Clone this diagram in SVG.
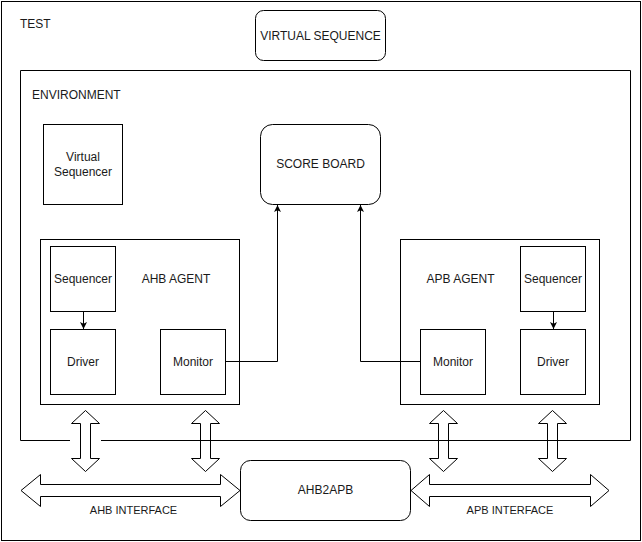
<svg xmlns="http://www.w3.org/2000/svg" width="642" height="542" viewBox="0 0 642 542">
<style>
  .box{fill:#fff;stroke:#000;stroke-width:1}
  .frame{fill:none;stroke:#000;stroke-width:1}
  .t{font-family:"Liberation Sans",Arial,Helvetica,sans-serif;font-size:12px;fill:#1a1a1a}
  .c{text-anchor:middle}
  .s{font-size:11px}
  .wire{fill:none;stroke:#000;stroke-width:1}
  .flex{fill:#fff;stroke:#000;stroke-width:1;stroke-linejoin:miter}
</style>
<defs>
  <marker id="ah" viewBox="0 0 10 10" refX="10" refY="5" markerWidth="7" markerHeight="7" markerUnits="userSpaceOnUse" orient="auto">
    <path d="M0,0 L10,5 L0,10 L2.5,5 Z" fill="#000"/>
  </marker>
</defs>
<rect x="0" y="0" width="642" height="542" fill="#fff"/>

<g id="test">
  <rect class="frame" x="1.5" y="1.5" width="639" height="539"/>
  <text class="t" x="20" y="28">TEST</text>
</g>

<g id="virtual-sequence">
  <rect class="box" x="255.5" y="10.5" width="130" height="50" rx="8"/>
  <text class="t c" x="320.5" y="39.5">VIRTUAL SEQUENCE</text>
</g>

<g id="environment">
  <path class="frame" d="M101,440.5 H630.5 V70.5 H20.5 V440.5 H70"/>
  <text class="t" x="32" y="99">ENVIRONMENT</text>
</g>

<g id="virtual-sequencer">
  <rect class="box" x="43.5" y="124.5" width="79" height="80"/>
  <text class="t c" x="83" y="161">Virtual</text>
  <text class="t c" x="83" y="175.5">Sequencer</text>
</g>

<g id="score-board">
  <rect class="box" x="260.5" y="124.5" width="120" height="80" rx="12"/>
  <text class="t c" x="320.5" y="168">SCORE BOARD</text>
</g>

<g id="ahb-agent">
  <rect class="box" x="40.5" y="239.5" width="199" height="165"/>
  <text class="t c" x="176" y="283">AHB AGENT</text>
</g>
<g id="ahb-sequencer">
  <rect class="box" x="50.5" y="246.5" width="65" height="65"/>
  <text class="t c" x="83" y="283">Sequencer</text>
</g>
<g id="ahb-driver">
  <rect class="box" x="50.5" y="329.5" width="65" height="65"/>
  <text class="t c" x="83" y="365.5">Driver</text>
</g>
<g id="ahb-monitor">
  <rect class="box" x="160.5" y="329.5" width="65" height="65"/>
  <text class="t c" x="193" y="365.5">Monitor</text>
</g>

<g id="apb-agent">
  <rect class="box" x="400.5" y="239.5" width="199" height="165"/>
  <text class="t c" x="460.5" y="283">APB AGENT</text>
</g>
<g id="apb-sequencer">
  <rect class="box" x="520.5" y="246.5" width="65" height="65"/>
  <text class="t c" x="553" y="283">Sequencer</text>
</g>
<g id="apb-driver">
  <rect class="box" x="520.5" y="329.5" width="65" height="65"/>
  <text class="t c" x="553" y="365.5">Driver</text>
</g>
<g id="apb-monitor">
  <rect class="box" x="420.5" y="329.5" width="65" height="65"/>
  <text class="t c" x="453" y="365.5">Monitor</text>
</g>

<g id="ahb2apb">
  <rect class="box" x="240.5" y="460.5" width="170" height="60" rx="10"/>
  <text class="t c" x="325.5" y="494">AHB2APB</text>
</g>

<g id="connectors">
  <path class="wire" d="M83.5,311.5 V329" marker-end="url(#ah)"/>
  <path class="wire" d="M553.5,311.5 V329" marker-end="url(#ah)"/>
  <path class="wire" d="M226,361.5 H277.5 V205" marker-end="url(#ah)"/>
  <path class="wire" d="M420,361.5 H360.5 V205" marker-end="url(#ah)"/>

  <path class="flex" d="M85.5,410.5 L99.5,423.5 L90.5,423.5 L90.5,458.5 L99.5,458.5 L85.5,471.5 L71.5,458.5 L80.5,458.5 L80.5,423.5 L71.5,423.5 Z"/>
  <path class="flex" fill="none" style="fill:none" d="M205.5,410.5 L219.5,423.5 L210.5,423.5 L210.5,458.5 L219.5,458.5 L205.5,471.5 L191.5,458.5 L200.5,458.5 L200.5,423.5 L191.5,423.5 Z"/>
  <path class="flex" style="fill:none" d="M443.5,410.5 L457.5,423.5 L448.5,423.5 L448.5,458.5 L457.5,458.5 L443.5,471.5 L429.5,458.5 L438.5,458.5 L438.5,423.5 L429.5,423.5 Z"/>
  <path class="flex" style="fill:none" d="M552.5,410.5 L566.5,423.5 L557.5,423.5 L557.5,458.5 L566.5,458.5 L552.5,471.5 L538.5,458.5 L547.5,458.5 L547.5,423.5 L538.5,423.5 Z"/>

  <path class="flex" d="M21,490.5 L40.5,474.5 L40.5,484.5 L220.5,484.5 L220.5,474.5 L240,490.5 L220.5,506.5 L220.5,496.5 L40.5,496.5 L40.5,506.5 Z"/>
  <path class="flex" d="M411,490.5 L429.5,474.5 L429.5,484.5 L590.5,484.5 L590.5,474.5 L609,490.5 L590.5,506.5 L590.5,496.5 L429.5,496.5 L429.5,506.5 Z"/>
  <text class="t s c" x="133.5" y="514">AHB INTERFACE</text>
  <text class="t s c" x="510" y="514">APB INTERFACE</text>
</g>
</svg>
